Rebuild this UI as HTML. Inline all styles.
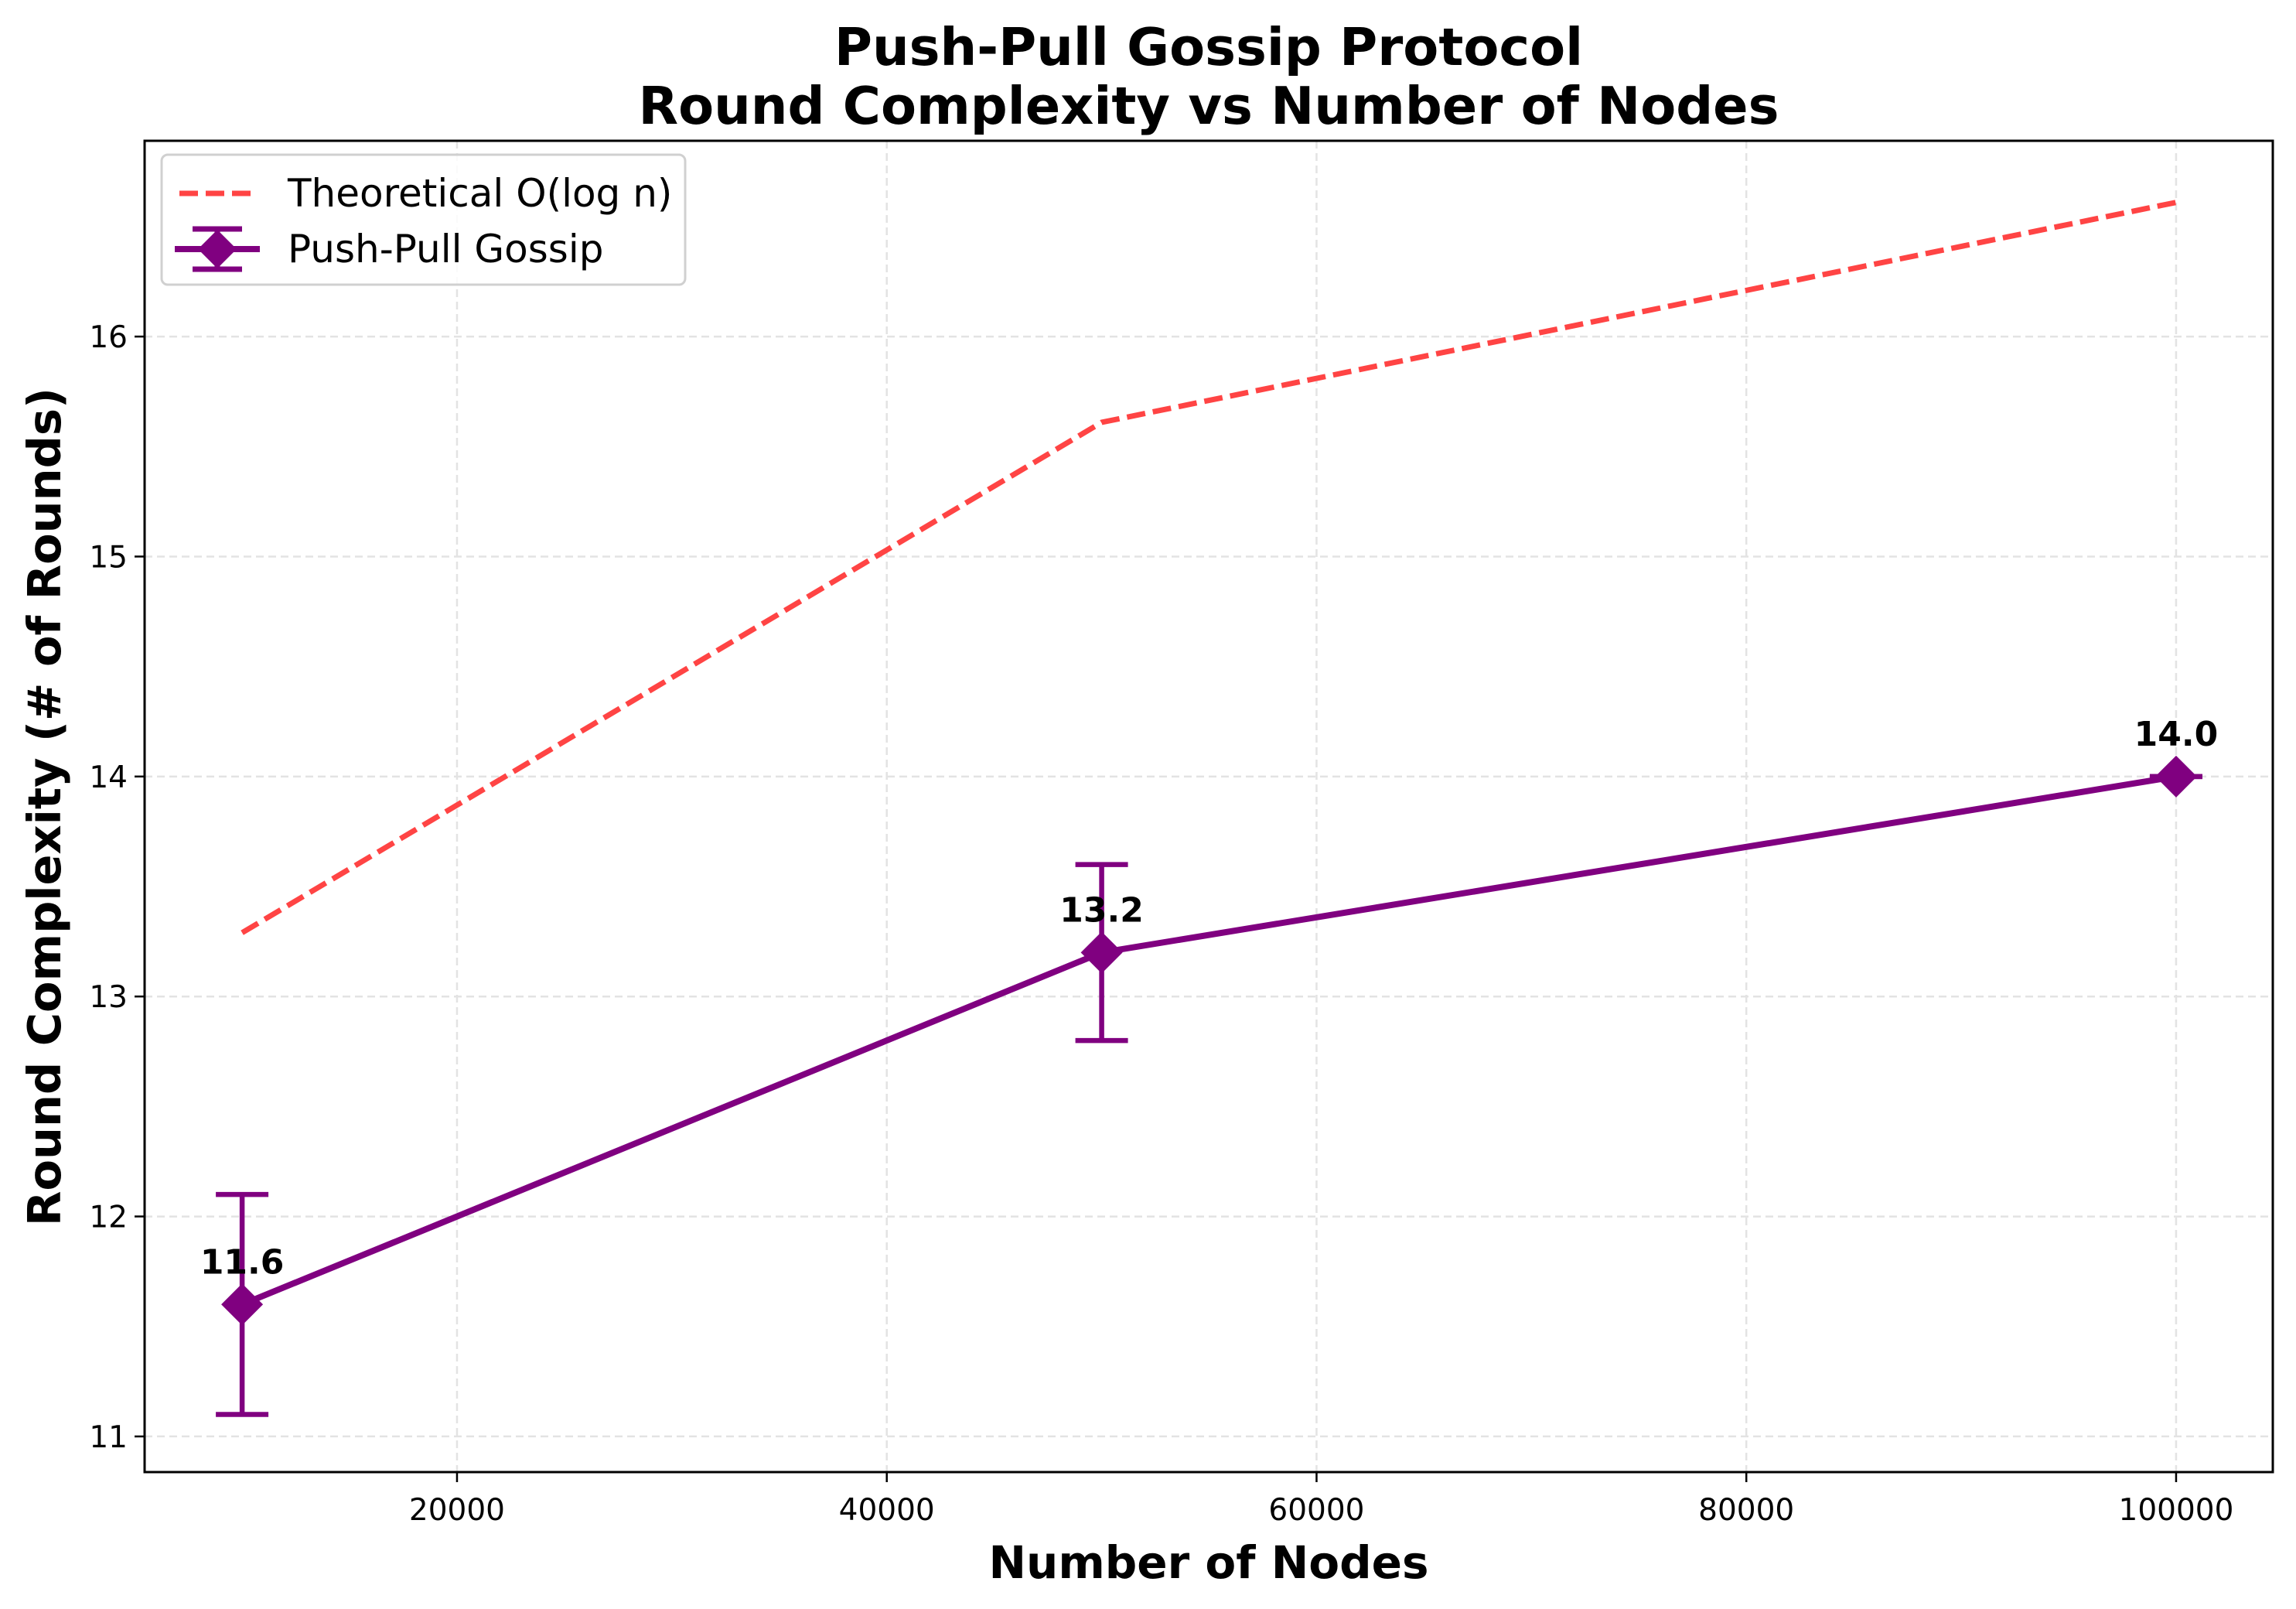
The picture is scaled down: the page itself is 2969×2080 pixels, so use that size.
<!DOCTYPE html>
<html><head><meta charset="utf-8"><style>
html,body{margin:0;padding:0;background:#fff}
svg{display:block}
text{font-family:"DejaVu Sans","Liberation Sans",sans-serif}
</style></head><body>
<svg id="chart" width="2969" height="2080" viewBox="0 0 2969 2080">
<rect width="2969" height="2080" fill="#fff"/>
<g id="grid"></g>
<g id="series"></g>
<rect x="187" y="182" width="2752" height="1721" fill="none" stroke="#000" stroke-width="3"/>
<g id="ticks"></g>
<text x="1563" y="84" text-anchor="middle" font-size="67" font-weight="bold">Push-Pull Gossip Protocol</text>
<text x="1563" y="160" text-anchor="middle" font-size="67" font-weight="bold">Round Complexity vs Number of Nodes</text>
<text x="1563" y="2040" text-anchor="middle" font-size="58" font-weight="bold">Number of Nodes</text>
<text transform="translate(78,1043) rotate(-90)" text-anchor="middle" font-size="59" font-weight="bold">Round Complexity (# of Rounds)</text>
<g>
<rect x="209" y="200" width="677" height="168" rx="8" fill="#fff" fill-opacity="0.8" stroke="#d0d0d0" stroke-width="3"/>
<line x1="232" y1="250" x2="330" y2="250" stroke="#ff4444" stroke-width="7" stroke-dasharray="24,10"/>
<text x="372" y="267" font-size="50">Theoretical O(log n)</text>
<g>
<line x1="226" y1="322" x2="336" y2="322" stroke="#800080" stroke-width="8"/>
<line x1="281" y1="296" x2="281" y2="348" stroke="#800080" stroke-width="7"/>
<line x1="249" y1="296" x2="313" y2="296" stroke="#800080" stroke-width="7"/>
<line x1="249" y1="348" x2="313" y2="348" stroke="#800080" stroke-width="7"/>
<polygon points="281,297 306,322 281,347 256,322" fill="#800080"/>
</g>
<text x="372" y="339" font-size="50">Push-Pull Gossip</text>
</g>
</svg>
<script>
const nodes = [10000, 50000, 100000];
const theory = [13.29, 15.61, 16.61];
const gossip = [11.6, 13.2, 14.0];
const gossipErr = [0.5, 0.4, 0.0];
const xTicks = [20000, 40000, 60000, 80000, 100000];
const yTicks = [11, 12, 13, 14, 15, 16];

const L=187,R=2939,T=182,B=1903;
const xMin=5462,xMax=104500,yMin=10.838,yMax=16.89;
const X=v=>L+(v-xMin)/(xMax-xMin)*(R-L);
const Y=v=>B-(v-yMin)/(yMax-yMin)*(B-T);
const NS='http://www.w3.org/2000/svg';
function mk(tag,attrs,parent){const e=document.createElementNS(NS,tag);for(const k in attrs)e.setAttribute(k,attrs[k]);parent.appendChild(e);return e;}
const grid=document.getElementById('grid'),ticks=document.getElementById('ticks'),series=document.getElementById('series');

xTicks.forEach(t=>{
  const x=X(t);
  const g=mk('line',{x1:x,x2:x,y1:T,y2:B,stroke:'#e3e3e3','stroke-width':2.5,'stroke-dasharray':'10,6'},grid);
  
  
  const tk=mk('line',{x1:x,x2:x,y1:B,y2:B+13,stroke:'#000','stroke-width':2.5},ticks);
  
  
  const lb=mk('text',{x:x,y:B+62,'text-anchor':'middle','font-size':39},ticks);
  lb.textContent=t;
  
  
});
yTicks.forEach(t=>{
  const y=Y(t);
  const g=mk('line',{x1:L,x2:R,y1:y,y2:y,stroke:'#e3e3e3','stroke-width':2.5,'stroke-dasharray':'10,6'},grid);
  
  
  const tk=mk('line',{x1:L-13,x2:L,y1:y,y2:y,stroke:'#000','stroke-width':2.5},ticks);
  
  
  const lb=mk('text',{x:L-22,y:y+14,'text-anchor':'end','font-size':39},ticks);
  lb.textContent=t;
  
  
});

const tl=mk('polyline',{points:nodes.map((n,i)=>X(n)+','+Y(theory[i])).join(' '),fill:'none',stroke:'#ff4444','stroke-width':7,'stroke-dasharray':'24,10'},series);



const gl=mk('polyline',{points:nodes.map((n,i)=>X(n)+','+Y(gossip[i])).join(' '),fill:'none',stroke:'#800080','stroke-width':8},series);



nodes.forEach((n,i)=>{
  const x=X(n),y=Y(gossip[i]),y1=Y(gossip[i]+gossipErr[i]),y2=Y(gossip[i]-gossipErr[i]);
  const eb=mk('g',{},series);
  
  
  mk('line',{x1:x,x2:x,y1:y1,y2:y2,stroke:'#800080','stroke-width':6.5},eb);
  mk('line',{x1:x-34,x2:x+34,y1:y1,y2:y1,stroke:'#800080','stroke-width':6.5},eb);
  mk('line',{x1:x-34,x2:x+34,y1:y2,y2:y2,stroke:'#800080','stroke-width':6.5},eb);
  const m=mk('polygon',{points:`${x},${y-27} ${x+27},${y} ${x},${y+27} ${x-27},${y}`,fill:'#800080'},series);
  
  
  const a=mk('text',{x:x,y:y-40,'text-anchor':'middle','font-size':44,'font-weight':'bold'},series);
  a.textContent=gossip[i].toFixed(1);
  
  
});
</script>
</body></html>
